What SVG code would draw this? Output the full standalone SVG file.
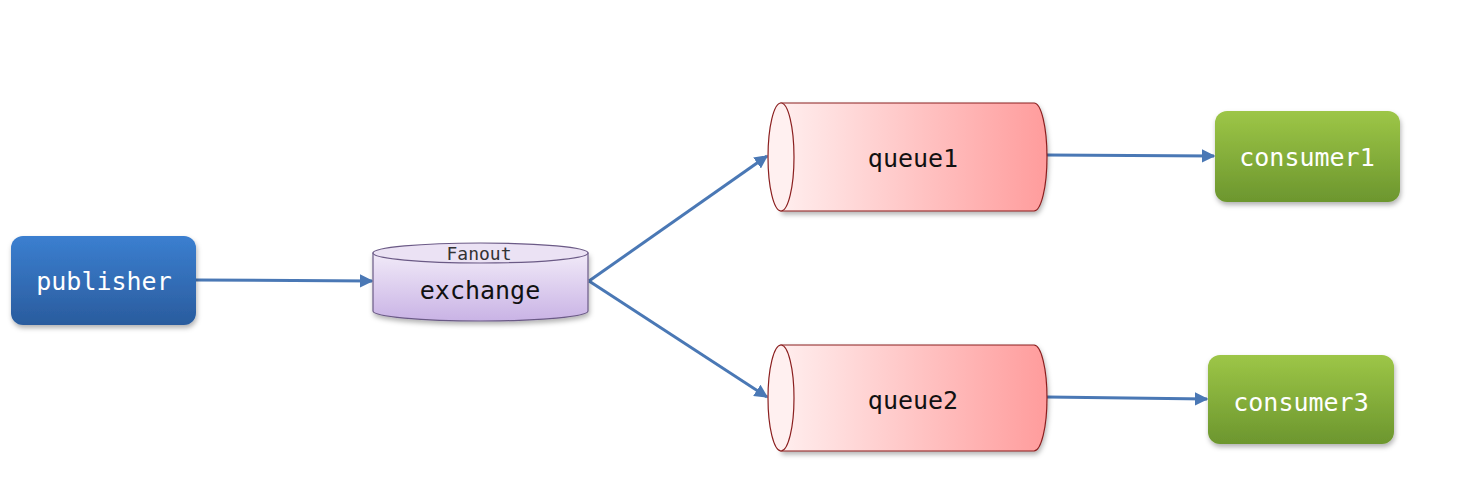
<svg xmlns="http://www.w3.org/2000/svg" width="1467" height="483" viewBox="0 0 1467 483">
<style>
.lbl{font-family:"DejaVu Sans Mono","Liberation Mono",monospace;font-size:25px;text-anchor:middle;dominant-baseline:central}
.w{fill:#ffffff}
.k{fill:#111111}
.conn{stroke:#4a78b5;stroke-width:3;fill:none;marker-end:url(#ah)}
.q{fill:url(#gq);stroke:#8b1f1f;stroke-width:1.2}
.qe{fill:#fff0f0;stroke:#8b1f1f;stroke-width:1.2}
</style>
<defs>
<linearGradient id="gb" x1="0" y1="0" x2="0" y2="1"><stop offset="0" stop-color="#3b7fd0"/><stop offset="1" stop-color="#2a5c9e"/></linearGradient>
<linearGradient id="gg" x1="0" y1="0" x2="0" y2="1"><stop offset="0" stop-color="#9dc647"/><stop offset="1" stop-color="#6c962e"/></linearGradient>
<linearGradient id="gp" x1="0" y1="0" x2="0" y2="1"><stop offset="0" stop-color="#f1eaf8"/><stop offset="1" stop-color="#c9b3e5"/></linearGradient>
<linearGradient id="gq" x1="0" y1="0" x2="1" y2="0"><stop offset="0" stop-color="#ffeeee"/><stop offset="1" stop-color="#ff9c9c"/></linearGradient>
<filter id="sh" x="-10%" y="-10%" width="125%" height="130%"><feDropShadow dx="1" dy="3" stdDeviation="2.5" flood-color="#000" flood-opacity="0.3"/></filter>
<marker id="ah" viewBox="0 0 10 10" refX="9" refY="5" markerWidth="4.5" markerHeight="4.5" orient="auto" markerUnits="strokeWidth"><path d="M0,0 L10,5 L0,10 z" fill="#4a78b5"/></marker>
</defs>
<rect width="1467" height="483" fill="#ffffff"/>
<g id="connectors">
<line class="conn" x1="196" y1="280" x2="372" y2="281"/>
<line class="conn" x1="589" y1="281" x2="767" y2="156"/>
<line class="conn" x1="589" y1="281" x2="767" y2="397"/>
<line class="conn" x1="1047" y1="155" x2="1214" y2="156"/>
<line class="conn" x1="1047" y1="397" x2="1207" y2="399"/>
</g>
<g id="publisher">
<rect x="11" y="236" width="185" height="89" rx="12" fill="url(#gb)" filter="url(#sh)"/>
<text class="lbl w" x="104" y="281">publisher</text>
</g>
<g id="exchange">
<path d="M373,253 L373,311 A107.5,10 0 0 0 588,311 L588,253 Z" fill="url(#gp)" stroke="#6b5a86" stroke-width="1.2" filter="url(#sh)"/>
<ellipse cx="480.5" cy="253" rx="107.5" ry="10" fill="#ebe2f4" stroke="#6b5a86" stroke-width="1.2"/>
<text class="lbl" x="479" y="253" style="font-size:18px;fill:#333">Fanout</text>
<text class="lbl k" x="480" y="290">exchange</text>
</g>
<g id="queue1">
<path class="q" d="M781,103 L1034,103 A13,54 0 0 1 1034,211 L781,211 Z" filter="url(#sh)"/>
<ellipse class="qe" cx="781" cy="157" rx="13" ry="54"/>
<text class="lbl k" x="913" y="158">queue1</text>
</g>
<g id="queue2">
<path class="q" d="M781,345 L1034,345 A13,53 0 0 1 1034,451 L781,451 Z" filter="url(#sh)"/>
<ellipse class="qe" cx="781" cy="398" rx="13" ry="53"/>
<text class="lbl k" x="913" y="400">queue2</text>
</g>
<g id="consumer1">
<rect x="1215" y="111" width="185" height="91" rx="12" fill="url(#gg)" filter="url(#sh)"/>
<text class="lbl w" x="1307" y="157">consumer1</text>
</g>
<g id="consumer3">
<rect x="1208" y="355" width="186" height="89" rx="12" fill="url(#gg)" filter="url(#sh)"/>
<text class="lbl w" x="1301" y="402">consumer3</text>
</g>
</svg>
